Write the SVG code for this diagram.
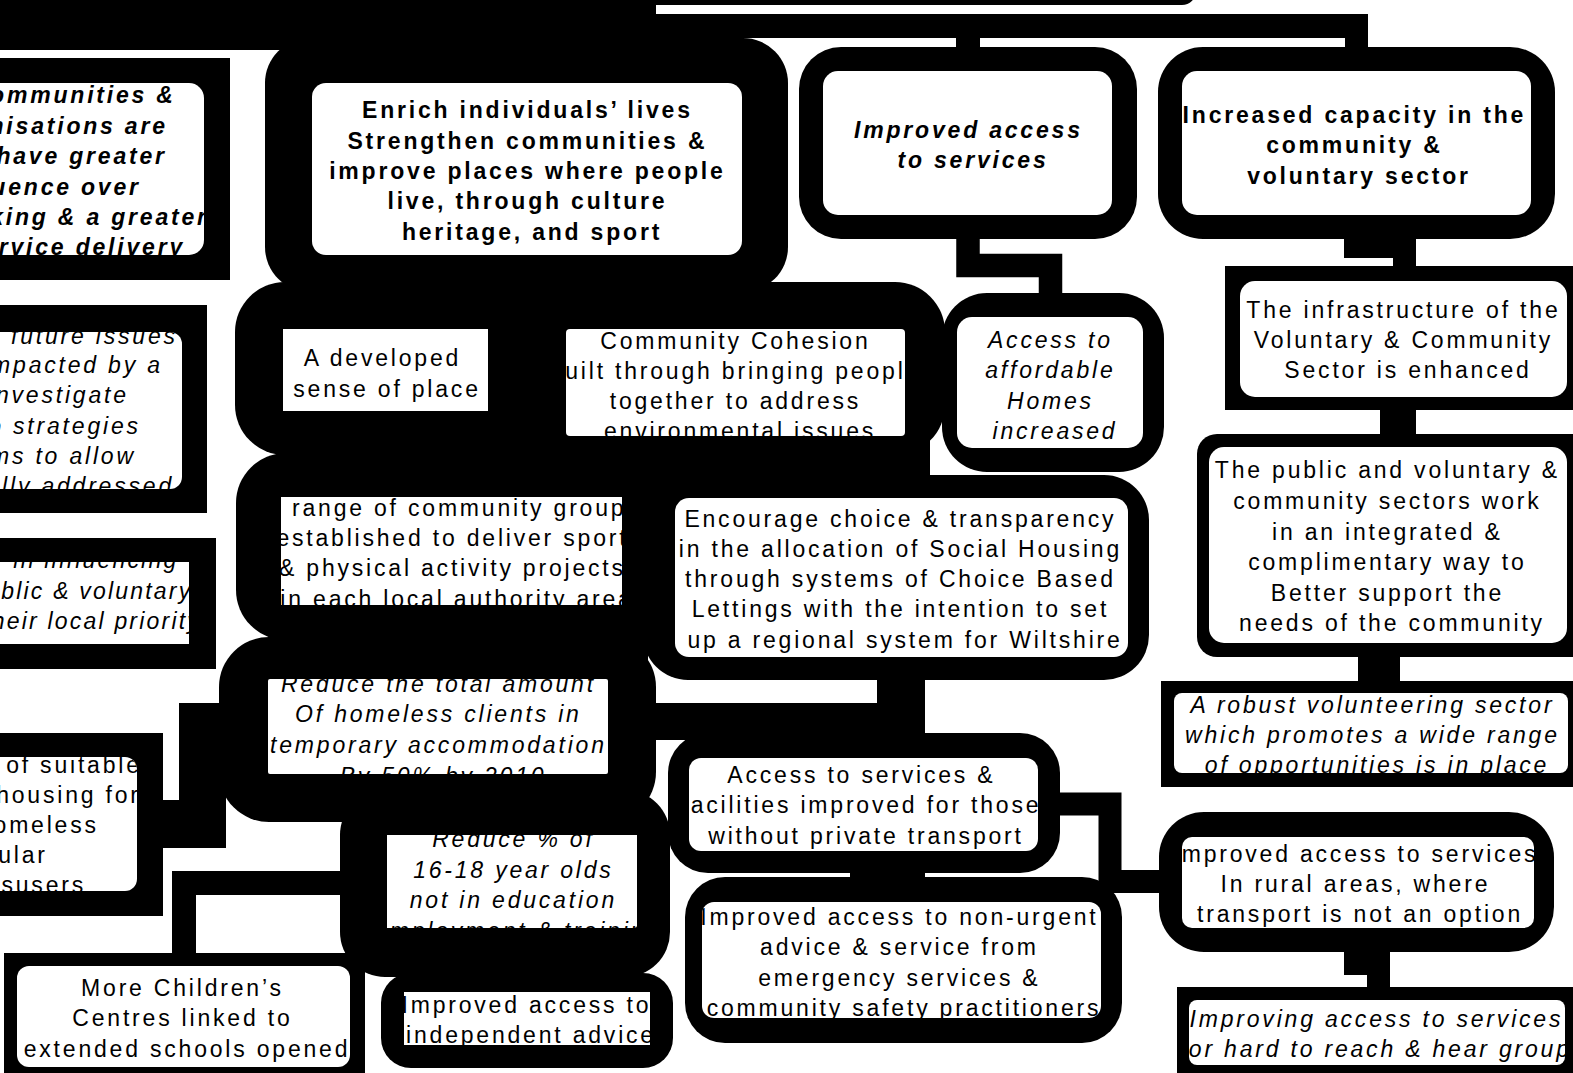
<svg xmlns="http://www.w3.org/2000/svg" width="1573" height="1073" viewBox="0 0 1573 1073">
  <style>
    .o { fill: #000; }
    .w { fill: #fff; }
    .wire { fill: none; stroke: #000; stroke-linejoin: miter; stroke-linecap: butt; }
    text { font-family: "Liberation Sans", Arial, sans-serif; font-size: 23px; letter-spacing: 2.8px; fill: #000; text-anchor: middle; }
    .b { font-weight: bold; letter-spacing: 2.8px; }
    .i { font-style: italic; }
    .e { text-anchor: end; }
    .s { text-anchor: start; }
    .n { letter-spacing: 2.2px; }
  </style>
  <defs>
    <clipPath id="cA"><rect x="312" y="83" width="430" height="172" rx="14"/></clipPath>
    <clipPath id="cImp"><rect x="823" y="71" width="289" height="144" rx="15"/></clipPath>
    <clipPath id="cCap"><rect x="1182" y="71" width="349" height="144" rx="15"/></clipPath>
    <clipPath id="cL1"><rect x="-20" y="83" width="224" height="172" rx="15"/></clipPath>
    <clipPath id="cL2"><rect x="-20" y="332" width="202" height="157" rx="12"/></clipPath>
    <clipPath id="cL3"><rect x="-20" y="562" width="209" height="82"/></clipPath>
    <clipPath id="cL4"><rect x="-20" y="757" width="157" height="134" rx="12"/></clipPath>
    <clipPath id="cKid"><rect x="17" y="966" width="333" height="101" rx="12"/></clipPath>
    <clipPath id="cPlace"><rect x="283" y="329" width="205" height="82"/></clipPath>
    <clipPath id="cCoh"><rect x="566" y="329" width="339" height="107" rx="4"/></clipPath>
    <clipPath id="cHome"><rect x="957" y="317" width="186" height="131" rx="15"/></clipPath>
    <clipPath id="cSport"><rect x="281" y="497" width="341" height="108"/></clipPath>
    <clipPath id="cCbl"><rect x="675" y="498" width="453" height="159" rx="14"/></clipPath>
    <clipPath id="cTemp"><rect x="268" y="679" width="340" height="95" rx="2"/></clipPath>
    <clipPath id="cNeet"><rect x="387" y="835" width="250" height="93"/></clipPath>
    <clipPath id="cAdv"><rect x="404" y="992" width="246" height="53"/></clipPath>
    <clipPath id="cEmer"><rect x="702" y="902" width="399" height="116" rx="12"/></clipPath>
    <clipPath id="cTrans"><rect x="689" y="758" width="349" height="93" rx="12"/></clipPath>
    <clipPath id="cInfra"><rect x="1240" y="281" width="327" height="116" rx="15"/></clipPath>
    <clipPath id="cPub"><rect x="1209" y="447" width="358" height="196" rx="15"/></clipPath>
    <clipPath id="cVol"><rect x="1174" y="693" width="394" height="80" rx="8"/></clipPath>
    <clipPath id="cRural"><rect x="1182" y="837" width="352" height="91" rx="10"/></clipPath>
    <clipPath id="cHard"><rect x="1189" y="1000" width="376" height="65" rx="8"/></clipPath>
  </defs>

  <rect x="0" y="0" width="1573" height="1073" fill="#fff"/>

  <!-- top node edge and main spine -->
  <g id="top">
    <rect class="o" x="560" y="-40" width="636" height="45" rx="14"/>
    <rect class="o" x="0" y="0" width="656" height="50"/>
  </g>

  <g id="connectors">
    <rect class="o" x="0" y="14" width="1368" height="24"/>
    <rect class="o" x="956" y="36" width="24" height="14"/>
    <rect class="o" x="1345" y="36" width="23" height="14"/>
    <path class="wire" stroke-width="23.5" d="M968 236 V265.5 H1050.5 V296"/>
    <rect class="o" x="1344" y="236" width="72" height="22"/>
    <rect class="o" x="1393" y="236" width="23" height="32"/>
    <rect class="o" x="1380" y="407" width="36" height="30"/>
    <rect class="o" x="1358" y="654" width="42" height="30"/>
    <rect class="o" x="1344" y="950" width="46" height="25"/>
    <rect class="o" x="1367" y="950" width="23" height="40"/>
    <rect class="o" x="877" y="676" width="48" height="60"/>
    <rect class="o" x="650" y="703" width="275" height="37"/>
    <rect class="o" x="850" y="866" width="75" height="16"/>
    <path class="wire" stroke-width="23" d="M1055 804 H1110 V881.5 H1163"/>
    <polygon class="o" points="179,703 226,703 226,848 163,848 163,800 179,800"/>
    <path class="wire" stroke-width="24" d="M345 883 H184 V955"/>
    <rect class="o" x="600" y="595" width="48" height="110"/>
    <rect class="o" x="560" y="430" width="370" height="50"/>
  </g>

  <g id="node-enrich">
    <rect class="o" x="265" y="38" width="523" height="254" rx="45"/>
  </g>

  <g id="node-place-cohesion">
    <rect class="o" x="235" y="282" width="710" height="173" rx="50"/>
  </g>

  <g id="node-sport">
    <rect class="o" x="236" y="453" width="454" height="187" rx="50"/>
  </g>

  <g id="node-temp">
    <rect class="o" x="219" y="637" width="437" height="185" rx="50"/>
  </g>

  <g id="node-neet">
    <rect class="o" x="340" y="790" width="330" height="187" rx="45"/>
  </g>

  <g id="node-cbl">
    <rect class="o" x="643" y="475" width="506" height="205" rx="45"/>
  </g>

  <!-- white panels and labels -->
  <g id="label-enrich">
    <rect class="w" x="312" y="83" width="430" height="172" rx="14"/>
    <text class="b" clip-path="url(#cA)">
      <tspan x="532" y="118">Enrich individuals’ lives</tspan>
      <tspan x="532" y="149">Strengthen communities &amp;</tspan>
      <tspan x="532" y="179">improve places where people</tspan>
      <tspan x="532" y="209">live, through culture</tspan>
      <tspan x="532" y="240">heritage, and sport</tspan>
    </text>
  </g>

  <g id="node-access">
    <rect class="o" x="799" y="47" width="338" height="192" rx="42"/>
    <rect class="w" x="823" y="71" width="289" height="144" rx="15"/>
    <text class="b i" clip-path="url(#cImp)">
      <tspan x="973" y="138">Improved access</tspan>
      <tspan x="973" y="168">to services</tspan>
    </text>
  </g>

  <g id="node-capacity">
    <rect class="o" x="1158" y="47" width="397" height="192" rx="45"/>
    <rect class="w" x="1182" y="71" width="349" height="144" rx="15"/>
    <text class="b" clip-path="url(#cCap)">
      <tspan x="1359" y="123">Increased capacity in the</tspan>
      <tspan x="1359" y="153">community &amp;</tspan>
      <tspan x="1359" y="184">voluntary sector</tspan>
    </text>
  </g>

  <g id="node-influence">
    <rect class="o" x="0" y="58" width="230" height="222"/>
    <rect class="w" x="-20" y="83" width="224" height="172" rx="15"/>
    <text class="b i e" clip-path="url(#cL1)">
      <tspan x="185" y="103">Communities &amp;</tspan>
      <tspan x="177" y="134">Organisations are</tspan>
      <tspan x="176" y="164">have greater</tspan>
      <tspan x="150" y="195">influence over</tspan>
      <tspan x="218" y="225">making &amp; a greater</tspan>
      <tspan x="185" y="255">service delivery</tspan>
    </text>
  </g>

  <g id="node-future">
    <rect class="o" x="0" y="305" width="207" height="208"/>
    <rect class="w" x="-20" y="332" width="202" height="157" rx="12"/>
    <text class="i e" clip-path="url(#cL2)">
      <tspan x="187" y="344">potential future issues</tspan>
      <tspan x="172" y="373">impacted by a</tspan>
      <tspan x="138" y="403">investigate</tspan>
      <tspan x="150" y="434">into strategies</tspan>
      <tspan x="145" y="464">mechanisms to allow</tspan>
      <tspan x="174" y="494">fully addressed</tspan>
    </text>
  </g>

  <g id="node-priority">
    <rect class="o" x="0" y="538" width="216" height="131"/>
    <rect class="w" x="-20" y="562" width="209" height="82"/>
    <text class="i e n" clip-path="url(#cL3)">
      <tspan x="187" y="568">power in influencing</tspan>
      <tspan x="201" y="599">public &amp; voluntary</tspan>
      <tspan x="201" y="629">their local priority</tspan>
    </text>
  </g>

  <g id="node-housing">
    <rect class="o" x="0" y="733" width="163" height="183"/>
    <rect class="w" x="-20" y="757" width="157" height="134" rx="12"/>
    <text class="e" clip-path="url(#cL4)">
      <tspan x="151" y="773">amount of suitable</tspan>
      <tspan x="150" y="803">temporary housing for</tspan>
      <tspan x="108" y="833">homeless</tspan>
      <tspan x="57" y="863">particular</tspan>
      <tspan x="86" y="893">substance misusers</tspan>
    </text>
  </g>

  <g id="node-children">
    <rect class="o" x="4" y="953" width="361" height="120"/>
    <rect class="w" x="17" y="966" width="333" height="101" rx="12"/>
    <text clip-path="url(#cKid)">
      <tspan x="187" y="996">More Children’s</tspan>
      <tspan x="187" y="1026">Centres linked to</tspan>
      <tspan x="187" y="1057">extended schools opened</tspan>
    </text>
  </g>

  <g id="label-place">
    <rect class="w" x="283" y="329" width="205" height="82"/>
    <text clip-path="url(#cPlace)">
      <tspan x="387" y="366">A developed</tspan>
      <tspan x="387" y="397">sense of place</tspan>
    </text>
  </g>

  <g id="label-cohesion">
    <rect class="w" x="566" y="329" width="339" height="107" rx="4"/>
    <text clip-path="url(#cCoh)">
      <tspan x="740" y="349">Community Cohesion</tspan>
      <tspan x="740" y="379">built through bringing people</tspan>
      <tspan x="740" y="409">together to address</tspan>
      <tspan x="740" y="439">environmental issues</tspan>
    </text>
  </g>

  <g id="node-homes">
    <rect class="o" x="942" y="293" width="222" height="179" rx="45"/>
    <rect class="w" x="957" y="317" width="186" height="131" rx="15"/>
    <text class="i" clip-path="url(#cHome)">
      <tspan x="1055" y="348">Access to</tspan>
      <tspan x="1055" y="378">affordable</tspan>
      <tspan x="1055" y="409">Homes</tspan>
      <tspan x="1055" y="439">increased</tspan>
    </text>
  </g>

  <g id="label-sport">
    <rect class="w" x="281" y="497" width="341" height="108"/>
    <g clip-path="url(#cSport)">
      <text class="s" x="292" y="516">range of community groups</text>
      <text>
        <tspan x="457" y="546">established to deliver sport</tspan>
        <tspan x="457" y="576">&amp; physical activity projects</tspan>
        <tspan x="457" y="607">in each local authority area</tspan>
      </text>
    </g>
  </g>

  <g id="label-cbl">
    <rect class="w" x="675" y="498" width="453" height="159" rx="14"/>
    <text clip-path="url(#cCbl)">
      <tspan x="905" y="527">Encourage choice &amp; transparency</tspan>
      <tspan x="905" y="557">in the allocation of Social Housing</tspan>
      <tspan x="905" y="587">through systems of Choice Based</tspan>
      <tspan x="905" y="617">Lettings with the intention to set</tspan>
      <tspan x="905" y="648">up a regional system for Wiltshire</tspan>
    </text>
  </g>

  <g id="label-temp">
    <rect class="w" x="268" y="679" width="340" height="95" rx="2"/>
    <text class="i" clip-path="url(#cTemp)">
      <tspan x="443" y="692">Reduce the total amount</tspan>
      <tspan x="443" y="722">Of homeless clients in</tspan>
      <tspan x="443" y="753">temporary accommodation</tspan>
      <tspan x="443" y="784">By 50% by 2010</tspan>
    </text>
  </g>

  <g id="node-transport">
    <rect class="o" x="668" y="733" width="392" height="140" rx="40"/>
    <rect class="w" x="689" y="758" width="349" height="93" rx="12"/>
    <text clip-path="url(#cTrans)">
      <tspan x="866" y="783">Access to services &amp;</tspan>
      <tspan x="866" y="813">facilities improved for those</tspan>
      <tspan x="866" y="844">without private transport</tspan>
    </text>
  </g>

  <g id="label-neet">
    <rect class="w" x="387" y="835" width="250" height="93"/>
    <text class="i" clip-path="url(#cNeet)">
      <tspan x="518" y="847">Reduce % of</tspan>
      <tspan x="518" y="878">16-18 year olds</tspan>
      <tspan x="518" y="908">not in education</tspan>
      <tspan x="518" y="939">employment &amp; training</tspan>
    </text>
  </g>

  <g id="node-emergency">
    <rect class="o" x="685" y="877" width="437" height="166" rx="40"/>
    <rect class="w" x="702" y="902" width="399" height="116" rx="12"/>
    <text clip-path="url(#cEmer)">
      <tspan x="904" y="925">Improved access to non-urgent</tspan>
      <tspan x="904" y="955">advice &amp; service from</tspan>
      <tspan x="904" y="986">emergency services &amp;</tspan>
      <tspan x="904" y="1016">community safety practitioners</tspan>
    </text>
  </g>

  <g id="node-advice">
    <rect class="o" x="381" y="973" width="292" height="95" rx="30"/>
    <rect class="w" x="404" y="992" width="246" height="53"/>
    <text clip-path="url(#cAdv)">
      <tspan x="531" y="1013">Improved access to</tspan>
      <tspan x="531" y="1043">independent advice</tspan>
    </text>
  </g>

  <g id="node-infrastructure">
    <rect class="o" x="1225" y="266" width="348" height="144"/>
    <rect class="w" x="1240" y="281" width="327" height="116" rx="15"/>
    <text clip-path="url(#cInfra)">
      <tspan x="1408" y="318">The infrastructure of the</tspan>
      <tspan x="1408" y="348">Voluntary &amp; Community</tspan>
      <tspan x="1408" y="378">Sector is enhanced</tspan>
    </text>
  </g>

  <g id="node-partnership">
    <rect class="o" x="1197" y="434" width="400" height="223" rx="20"/>
    <rect class="w" x="1209" y="447" width="358" height="196" rx="15"/>
    <text clip-path="url(#cPub)">
      <tspan x="1392" y="478">The public and voluntary &amp;</tspan>
      <tspan x="1392" y="509">community sectors work</tspan>
      <tspan x="1392" y="540">in an integrated &amp;</tspan>
      <tspan x="1392" y="570">complimentary way to</tspan>
      <tspan x="1392" y="601">Better support the</tspan>
      <tspan x="1392" y="631">needs of the community</tspan>
    </text>
  </g>

  <g id="node-volunteering">
    <rect class="o" x="1161" y="681" width="412" height="106"/>
    <rect class="w" x="1174" y="693" width="394" height="80" rx="8"/>
    <text class="i" clip-path="url(#cVol)">
      <tspan x="1377" y="713">A robust volunteering sector</tspan>
      <tspan x="1377" y="743">which promotes a wide range</tspan>
      <tspan x="1377" y="773">of opportunities is in place</tspan>
    </text>
  </g>

  <g id="node-rural">
    <rect class="o" x="1159" y="812" width="395" height="140" rx="45"/>
    <rect class="w" x="1182" y="837" width="352" height="91" rx="10"/>
    <text clip-path="url(#cRural)">
      <tspan x="1360" y="862">Improved access to services</tspan>
      <tspan x="1360" y="892">In rural areas, where</tspan>
      <tspan x="1360" y="922">transport is not an option</tspan>
    </text>
  </g>

  <g id="node-hard-to-reach">
    <rect class="o" x="1177" y="987" width="396" height="86"/>
    <rect class="w" x="1189" y="1000" width="376" height="65" rx="8"/>
    <text class="i" clip-path="url(#cHard)">
      <tspan x="1381" y="1027">Improving access to services</tspan>
      <tspan x="1379" y="1057">For hard to reach &amp; hear groups</tspan>
    </text>
  </g>
</svg>
